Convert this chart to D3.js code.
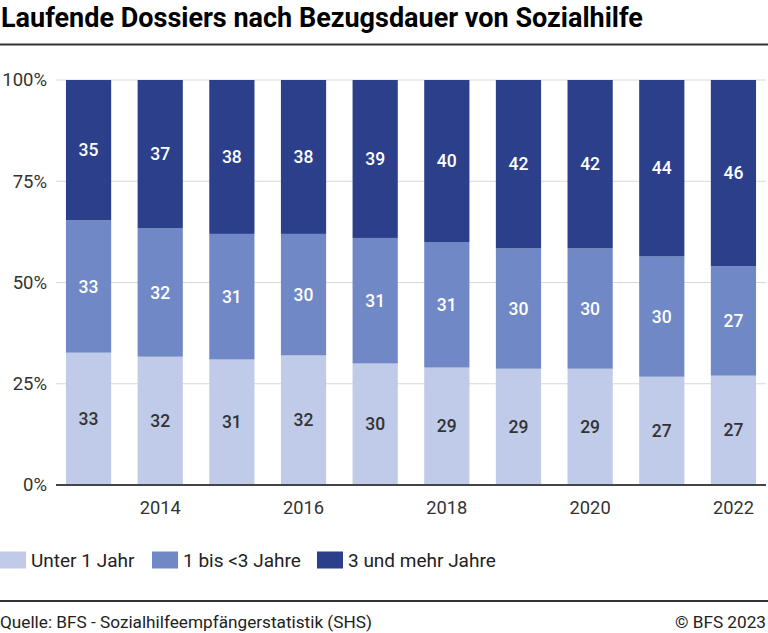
<!DOCTYPE html>
<html><head><meta charset="utf-8">
<script src="https://cdn.jsdelivr.net/npm/d3@7/dist/d3.min.js"></script>
<style>body{margin:0;background:#fff}svg{display:block;font-family:Roboto,sans-serif}</style>
</head><body>
<svg id="c" width="768" height="633"></svg>
<script>
const years = [2013,2014,2015,2016,2017,2018,2019,2020,2021,2022];
const tickYears = [2014,2016,2018,2020,2022];
const seriesNames = ["Unter 1 Jahr","1 bis <3 Jahre","3 und mehr Jahre"];
const unter1 = [33,32,31,32,30,29,29,29,27,27];
const bis3 = [33,32,31,30,31,31,30,30,30,27];
const mehr3 = [35,37,38,38,39,40,42,42,44,46];
const yTicks = [0,0.25,0.5,0.75,1];
const colors = ["#c0cbe9","#7088c6","#2b3f8b"];
const labelColors = ["#333333","#ffffff","#ffffff"];

const rows = years.map((y,i)=>({year:y,s0:unter1[i],s1:bis3[i],s2:mehr3[i]}));
const keys = ["s0","s1","s2"];
const stack = d3.stack().keys(keys).offset(d3.stackOffsetExpand)(rows);

const svg = d3.select("#c");
const x = d3.scaleBand().domain(years).range([56,766]).paddingInner(0.369).paddingOuter(0.139);
const y = d3.scaleLinear().domain([0,1]).range([485,80]);

// title
svg.append("text").attr("x",1).attr("y",27).attr("font-size",27).attr("font-weight",700).attr("fill","#000")
  .text("Laufende Dossiers nach Bezugsdauer von Sozialhilfe");
svg.append("line").attr("x1",0).attr("x2",768).attr("y1",44.5).attr("y2",44.5).attr("stroke","#333").attr("stroke-width",2);

// gridlines + y labels
const yAxis = svg.append("g");
yTicks.forEach(t=>{
  if(t>0) yAxis.append("line").attr("x1",56).attr("x2",766).attr("y1",y(t)).attr("y2",y(t)).attr("stroke","#d9d9d9").attr("stroke-width",1);
  yAxis.append("text").attr("x",47).attr("y",y(t)).attr("dy","0.35em").attr("text-anchor","end")
    .attr("font-size",18.5).attr("font-weight",400).attr("fill","#333").text(d3.format(".0%")(t));
});

// bars
const g = svg.append("g");
stack.forEach((layer,li)=>{
  g.selectAll(null).data(layer).enter().append("rect")
    .attr("x",d=>x(d.data.year)).attr("width",x.bandwidth())
    .attr("y",d=>y(d[1])).attr("height",d=>y(d[0])-y(d[1]))
    .attr("fill",colors[li]);
  g.selectAll(null).data(layer).enter().append("text")
    .attr("x",d=>x(d.data.year)+x.bandwidth()/2)
    .attr("y",d=>(y(d[0])+y(d[1]))/2).attr("dy","0.35em")
    .attr("text-anchor","middle").attr("font-size",17.5).attr("font-weight",500)
    .attr("fill",labelColors[li]).text(d=>d.data[keys[li]]);
});

// x axis
svg.append("line").attr("x1",56).attr("x2",766).attr("y1",485).attr("y2",485).attr("stroke","#444").attr("stroke-width",2);
tickYears.forEach(t=>{
  svg.append("text").attr("x",x(t)+x.bandwidth()/2).attr("y",514).attr("text-anchor","middle")
    .attr("font-size",18.3).attr("font-weight",400).attr("fill","#333").text(t);
});

// legend
const legX = [0,152,317];
seriesNames.forEach((n,i)=>{
  svg.append("rect").attr("x",legX[i]).attr("y",551.5).attr("width",26).attr("height",17).attr("fill",colors[i]);
  svg.append("text").attr("x",legX[i]+31).attr("y",567).attr("font-size",19).attr("font-weight",400)
    .attr("fill","#222").text(n);
});

// footer
svg.append("line").attr("x1",0).attr("x2",768).attr("y1",601).attr("y2",601).attr("stroke","#333").attr("stroke-width",2);
svg.append("text").attr("x",0).attr("y",628).attr("font-size",17.2).attr("font-weight",400).attr("fill","#222")
  .text("Quelle: BFS - Sozialhilfeempfängerstatistik (SHS)");
svg.append("text").attr("x",766).attr("y",628).attr("text-anchor","end").attr("font-size",17.2).attr("font-weight",400).attr("fill","#222")
  .text("© BFS 2023");
</script>
</body></html>
